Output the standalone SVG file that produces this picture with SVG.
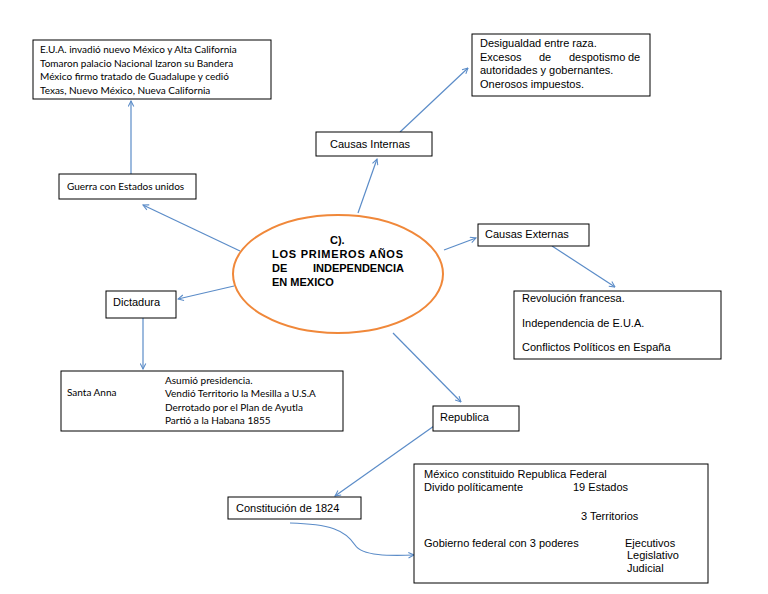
<svg xmlns="http://www.w3.org/2000/svg" width="768" height="594" viewBox="0 0 768 594">
<defs>
<style>
.box{fill:#fff;stroke:#000;stroke-width:1}
.c{font-family:Lato,"Open Sans","Liberation Sans",sans-serif;font-size:10px;fill:#000}
.a{font-family:"Liberation Sans",Arial,sans-serif;font-size:11px;fill:#000}
.b{font-family:"Liberation Sans",Arial,sans-serif;font-size:11px;font-weight:bold;fill:#000}
.ln{fill:none;stroke:#5B8CC8;stroke-width:1.2;marker-end:url(#ah)}
</style>
<marker id="ah" viewBox="0 0 10 10" refX="9" refY="5" markerWidth="7" markerHeight="7" orient="auto" markerUnits="userSpaceOnUse">
<path d="M1,1 L9,5 L1,9" fill="none" stroke="#5B8CC8" stroke-width="1.5"/>
</marker>
</defs>
<rect width="768" height="594" fill="#fff"/>
<g id="connectors">
<line class="ln" x1="131" y1="174" x2="131" y2="101"/>
<line class="ln" x1="240" y1="251" x2="143" y2="205"/>
<line class="ln" x1="358" y1="213" x2="377" y2="159"/>
<line class="ln" x1="400" y1="132" x2="468" y2="68"/>
<line class="ln" x1="444" y1="250" x2="476" y2="238"/>
<line class="ln" x1="552" y1="246" x2="615" y2="287"/>
<line class="ln" x1="234" y1="286" x2="178" y2="299"/>
<line class="ln" x1="143" y1="318" x2="143" y2="369"/>
<line class="ln" x1="393" y1="333" x2="461" y2="402"/>
<line class="ln" x1="434" y1="426" x2="335" y2="496"/>
<path class="ln" d="M290,523 C330,524 345,530 355,545 C362,556 390,556 414,555"/>
</g>
<g id="center">
<ellipse cx="338" cy="274" rx="105" ry="59" fill="#fff" stroke="#F0883A" stroke-width="2"/>
<text class="b" x="330" y="244">C).</text>
<text class="b" x="272" y="258" textLength="131" lengthAdjust="spacing">LOS PRIMEROS AÑOS</text>
<text class="b" x="272" y="272">DE</text>
<text class="b" x="313" y="272">INDEPENDENCIA</text>
<text class="b" x="272" y="286">EN MEXICO</text>
</g>
<g id="n-eua">
<rect class="box" x="33" y="40" width="238" height="59"/>
<text class="c" x="40" y="53">E.U.A. invadió nuevo México y Alta California</text>
<text class="c" x="40" y="67">Tomaron palacio Nacional Izaron su Bandera</text>
<text class="c" x="40" y="80">México firmo tratado de Guadalupe y cedió</text>
<text class="c" x="40" y="94">Texas, Nuevo México, Nueva California</text>
</g>
<g id="n-guerra">
<rect class="box" x="59" y="174" width="137" height="25"/>
<text class="c" x="67" y="190">Guerra con Estados unidos</text>
</g>
<g id="n-internas">
<rect class="box" x="316" y="132" width="116" height="24"/>
<text class="a" x="330" y="148">Causas Internas</text>
</g>
<g id="n-desigualdad">
<rect class="box" x="472" y="34" width="178" height="62"/>
<text class="a" x="480" y="47">Desigualdad entre raza.</text>
<text class="a" x="480" y="61">Excesos</text>
<text class="a" x="539" y="61">de</text>
<text class="a" x="569" y="61">despotismo</text>
<text class="a" x="628" y="61">de</text>
<text class="a" x="480" y="74">autoridades y gobernantes.</text>
<text class="a" x="480" y="88">Onerosos impuestos.</text>
</g>
<g id="n-externas">
<rect class="box" x="478" y="224" width="111" height="22"/>
<text class="a" x="485" y="238">Causas Externas</text>
</g>
<g id="n-revolucion">
<rect class="box" x="514" y="291" width="207" height="68"/>
<text class="a" x="522" y="302">Revolución francesa.</text>
<text class="a" x="522" y="327">Independencia de E.U.A.</text>
<text class="a" x="522" y="351">Conflictos Políticos en España</text>
</g>
<g id="n-dictadura">
<rect class="box" x="106" y="291" width="70" height="27"/>
<text class="a" x="113" y="306">Dictadura</text>
</g>
<g id="n-santa">
<rect class="box" x="61" y="371" width="282" height="60"/>
<text class="c" x="67" y="396">Santa Anna</text>
<text class="c" x="165" y="384">Asumió presidencia.</text>
<text class="c" x="165" y="397">Vendió Territorio la Mesilla a U.S.A</text>
<text class="c" x="165" y="411">Derrotado por el Plan de Ayutla</text>
<text class="c" x="165" y="424">Partió a la Habana 1855</text>
</g>
<g id="n-republica">
<rect class="box" x="433" y="406" width="86" height="25"/>
<text class="a" x="440" y="421">Republica</text>
</g>
<g id="n-constitucion">
<rect class="box" x="228" y="497" width="133" height="22"/>
<text class="a" x="236" y="512">Constitución de 1824</text>
</g>
<g id="n-mexico">
<rect class="box" x="414" y="464" width="294" height="119"/>
<text class="a" x="424" y="478">México constituido Republica Federal</text>
<text class="a" x="424" y="491">Divido políticamente</text>
<text class="a" x="573" y="491">19 Estados</text>
<text class="a" x="581" y="520">3 Territorios</text>
<text class="a" x="424" y="547">Gobierno federal con 3 poderes</text>
<text class="a" x="625" y="547">Ejecutivos</text>
<text class="a" x="627" y="559">Legislativo</text>
<text class="a" x="627" y="572">Judicial</text>
</g>
</svg>
